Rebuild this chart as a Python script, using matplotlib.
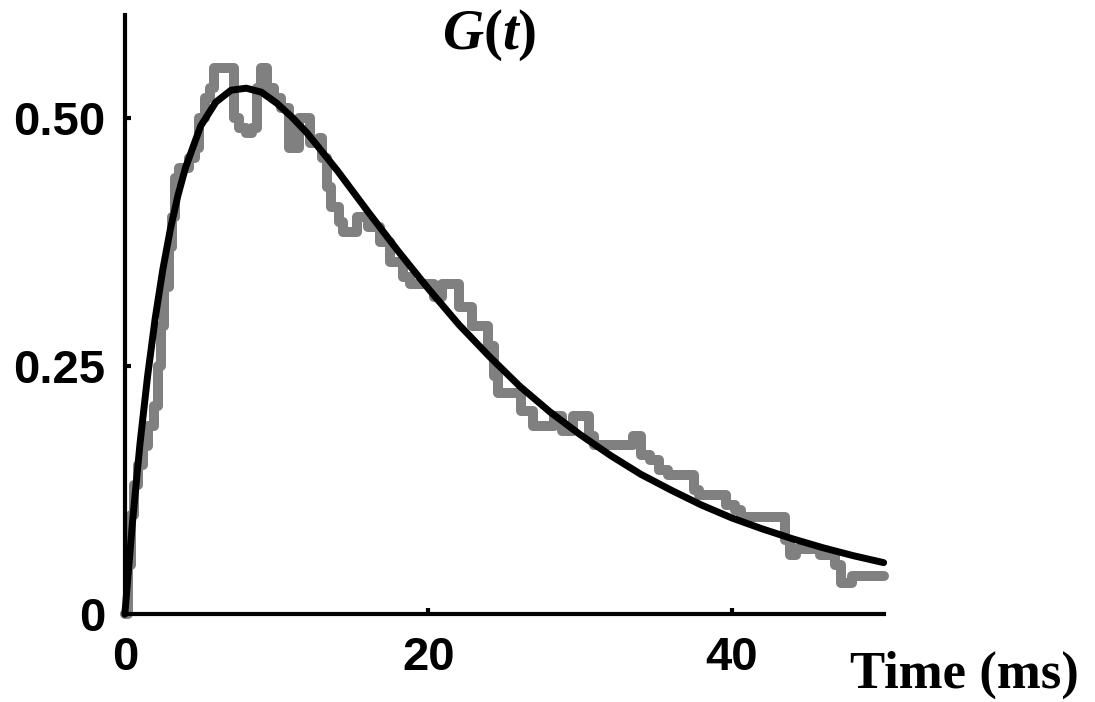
import matplotlib
matplotlib.use("Agg")
import matplotlib.pyplot as plt

# measured trace (step data), time in ms
trace_t = [0.0, 0.2, 0.4, 0.6, 0.9, 1.2, 1.5, 1.9, 2.2, 2.4, 2.6, 2.9, 3.1, 3.3,
           3.6, 4.2, 4.6, 4.9, 5.3, 5.6, 5.9, 7.2, 7.5, 8.0, 8.4, 8.7, 9.0, 9.4,
           9.8, 10.3, 10.8, 11.5, 12.2, 12.8, 13.0, 13.3, 13.6, 14.1, 14.4, 15.3,
           16.0, 16.8, 17.5, 18.3, 18.8, 20.4, 20.9, 22.0, 22.9, 23.9, 24.3, 24.6,
           26.1, 26.9, 28.3, 28.8, 29.5, 30.6, 30.9, 33.5, 34.0, 34.6, 35.2, 35.8,
           37.5, 37.8, 39.6, 40.2, 40.6, 43.5, 43.8, 44.2, 45.8, 46.8, 47.2, 47.9,
           50.0]
trace_g = [0.0, 0.05, 0.10, 0.13, 0.15, 0.17, 0.19, 0.21, 0.25, 0.29, 0.33, 0.37, 0.40, 0.44,
           0.45, 0.46, 0.47, 0.50, 0.52, 0.53, 0.55, 0.50, 0.49, 0.485, 0.49, 0.53, 0.55, 0.53,
           0.52, 0.51, 0.47, 0.50, 0.475, 0.48, 0.46, 0.43, 0.41, 0.395, 0.385, 0.40,
           0.39, 0.375, 0.355, 0.34, 0.333, 0.32, 0.333, 0.31, 0.29, 0.27, 0.24, 0.223,
           0.205, 0.19, 0.20, 0.185, 0.20, 0.18, 0.171, 0.18, 0.16, 0.155, 0.145, 0.14,
           0.125, 0.12, 0.11, 0.105, 0.098, 0.075, 0.06, 0.066, 0.06, 0.05, 0.031, 0.039,
           0.039]

# fitted curve
fit_t = [0, 0.5, 1, 1.5, 2, 2.5, 3, 3.5, 4, 5, 6, 7, 8, 9, 10, 11, 12, 14, 16, 18,
         20, 22, 24, 26, 28, 30, 32, 34, 36, 38, 40, 42, 44, 46, 48, 50]
fit_g = [0, 0.092, 0.172, 0.240, 0.298, 0.347, 0.388, 0.422, 0.450, 0.492, 0.516,
         0.528, 0.530, 0.526, 0.515, 0.501, 0.485, 0.447, 0.406, 0.366, 0.328, 0.292,
         0.260, 0.230, 0.204, 0.181, 0.160, 0.141, 0.125, 0.110, 0.097, 0.086, 0.076,
         0.067, 0.059, 0.052]

x_ticks = [0, 20, 40]
y_ticks = [0, 0.25, 0.5]
y_ticklabels = ["0", "0.25", "0.50"]

plt.rcParams['mathtext.fontset'] = 'custom'
plt.rcParams['mathtext.it'] = 'Liberation Serif:italic:bold'
plt.rcParams['mathtext.rm'] = 'Liberation Serif:bold'

fig = plt.figure(figsize=(10.95, 7.02), dpi=100)
ax = fig.add_axes([0.114, 0.125, 0.693, 0.854])

ax.plot(trace_t, trace_g, drawstyle='steps-post', color='#808080', lw=7.2,
        solid_capstyle='round', solid_joinstyle='round', clip_on=False, zorder=2)
ax.plot(fit_t, fit_g, color='black', lw=5, solid_capstyle='round', clip_on=False, zorder=3)

ax.set_xlim(0, 50)
ax.set_ylim(0, 0.604)
ax.set_xticks(x_ticks)
ax.set_xticklabels([str(v) for v in x_ticks])
ax.set_yticks(y_ticks)
ax.set_yticklabels(y_ticklabels)

for side in ['top', 'right']:
    ax.spines[side].set_visible(False)
for side in ['left', 'bottom']:
    ax.spines[side].set_linewidth(3)
ax.tick_params(direction='in', length=4, width=3)
ax.tick_params(axis='x', pad=16)
ax.tick_params(axis='y', pad=14)
for lab in ax.get_xticklabels() + ax.get_yticklabels():
    lab.set_fontfamily('Liberation Sans')
    lab.set_fontweight('bold')
    lab.set_fontsize(34)

fig.text(0.881, 0.038, 'Time (ms)', family='Liberation Serif', weight='bold',
         fontsize=38, ha='center', va='center')
fig.text(0.447, 0.95, '$G(t)$', fontsize=41, ha='center', va='center')

fig.savefig('out.png', dpi=100)
